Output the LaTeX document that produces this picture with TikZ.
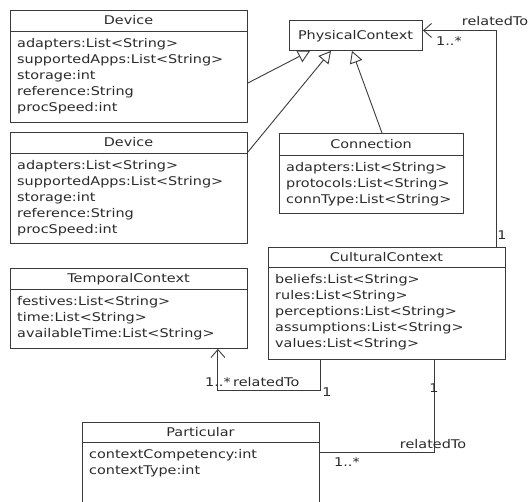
\documentclass[tikz,border=0pt]{standalone}
\usepackage{fontspec}
\setmainfont[FakeStretch=1.2]{DejaVu Sans}
\usetikzlibrary{arrows.meta}
\definecolor{linec}{HTML}{3A3A3A}
\definecolor{txtc}{HTML}{2A2A2A}
\tikzset{
  box/.style={draw=linec, line width=0.9pt, inner sep=0pt},
  boxline/.style={draw=linec, line width=0.9pt},
  txt/.style={text=txtc, inner sep=0pt, font=\fontsize{12}{14}\selectfont},
  gen/.style={draw=linec, line width=0.9pt, -{Triangle[open, length=12pt, width=13pt, fill=white]}},
  assoc/.style={draw=linec, line width=0.9pt, -{Straight Barb[length=8pt, width=14pt]}},
  plain/.style={draw=linec, line width=0.9pt},
}
\newcommand\umlclass[8]{%
  \pgfmathsetmacro\clw{#4-#2}\pgfmathsetmacro\clh{#5-#3}%
  \node[box, minimum width=\clw pt, minimum height=\clh pt, anchor=north west] (#1) at (#2,#3) {};
  \draw[boxline] (#2,#6) -- (#4,#6);
  \node[txt, anchor=base] (#1-title) at ({(#2+#4)/2},{(#3+#6)/2+4.5}) {#7};
  \foreach \attr [count=\i] in {#8} {
    \node[txt, anchor=base west] (#1-a\i) at ({#2+7},{#6+16.5+16*(\i-1)}) {\attr};
  }
}
\begin{document}
\begin{tikzpicture}[x=1pt, y=-1pt]
\useasboundingbox (0,0) rectangle (530,502);
\clip (0,0) rectangle (530,502);

\umlclass{dev1}{10}{10}{247}{122}{31}{Device}{adapters:List<String>,supportedApps:List<String>,storage:int,reference:String,procSpeed:int}
\umlclass{dev2}{10}{132}{247}{243}{153}{Device}{adapters:List<String>,supportedApps:List<String>,storage:int,reference:String,procSpeed:int}
\umlclass{conn}{279}{133}{463}{213}{155}{Connection}{adapters:List<String>,protocols:List<String>,connType:List<String>}
\umlclass{cult}{268}{247}{505}{359}{267}{CulturalContext}{beliefs:List<String>,rules:List<String>,perceptions:List<String>,assumptions:List<String>,values:List<String>}
\umlclass{temp}{10}{268}{247}{348}{289}{TemporalContext}{festives:List<String>,time:List<String>,availableTime:List<String>}
\umlclass{part}{82}{422}{319}{520}{442}{Particular}{contextCompetency:int,contextType:int}

\node[box, minimum width=133pt, minimum height=30pt, anchor=north west] (phys) at (289,20) {};
\node[txt, anchor=base] (phys-title) at (355.5,39.5) {PhysicalContext};

% generalizations
\draw[gen] ([yshift=-73pt]dev1.north east) -- ([xshift=21pt]phys.south west);
\draw[gen] ([yshift=-20pt]dev2.north east) -- ([xshift=42pt]phys.south west);
\draw[gen] ([xshift=103pt]conn.north west) -- ([xshift=63pt]phys.south west);

% associations
\draw[assoc] ([xshift=-9pt]cult.north east) |- ([yshift=5pt]phys.east);
\node[txt, anchor=base] (l1) at (495,26) {relatedTo};
\node[txt, anchor=base] (l2) at (449,46) {1..*};
\node[txt, anchor=base] (l3) at (502,240) {1};

\draw[assoc] ([xshift=52pt]cult.south west) -- ++(0,31) -| ([xshift=-30pt]temp.south east);
\node[txt, anchor=base west] (l4) at (205,386) {1..*};
\node[txt, anchor=base west] (l5) at (233,387) {relatedTo};
\node[txt, anchor=base] (l6) at (327,396) {1};

\draw[plain] ([xshift=166pt]cult.south west) |- ([yshift=-30pt]part.north east);
\node[txt, anchor=base] (l7) at (434,392) {1};
\node[txt, anchor=base] (l8) at (433,448) {relatedTo};
\node[txt, anchor=base] (l9) at (347,466) {1..*};
\end{tikzpicture}
\end{document}
